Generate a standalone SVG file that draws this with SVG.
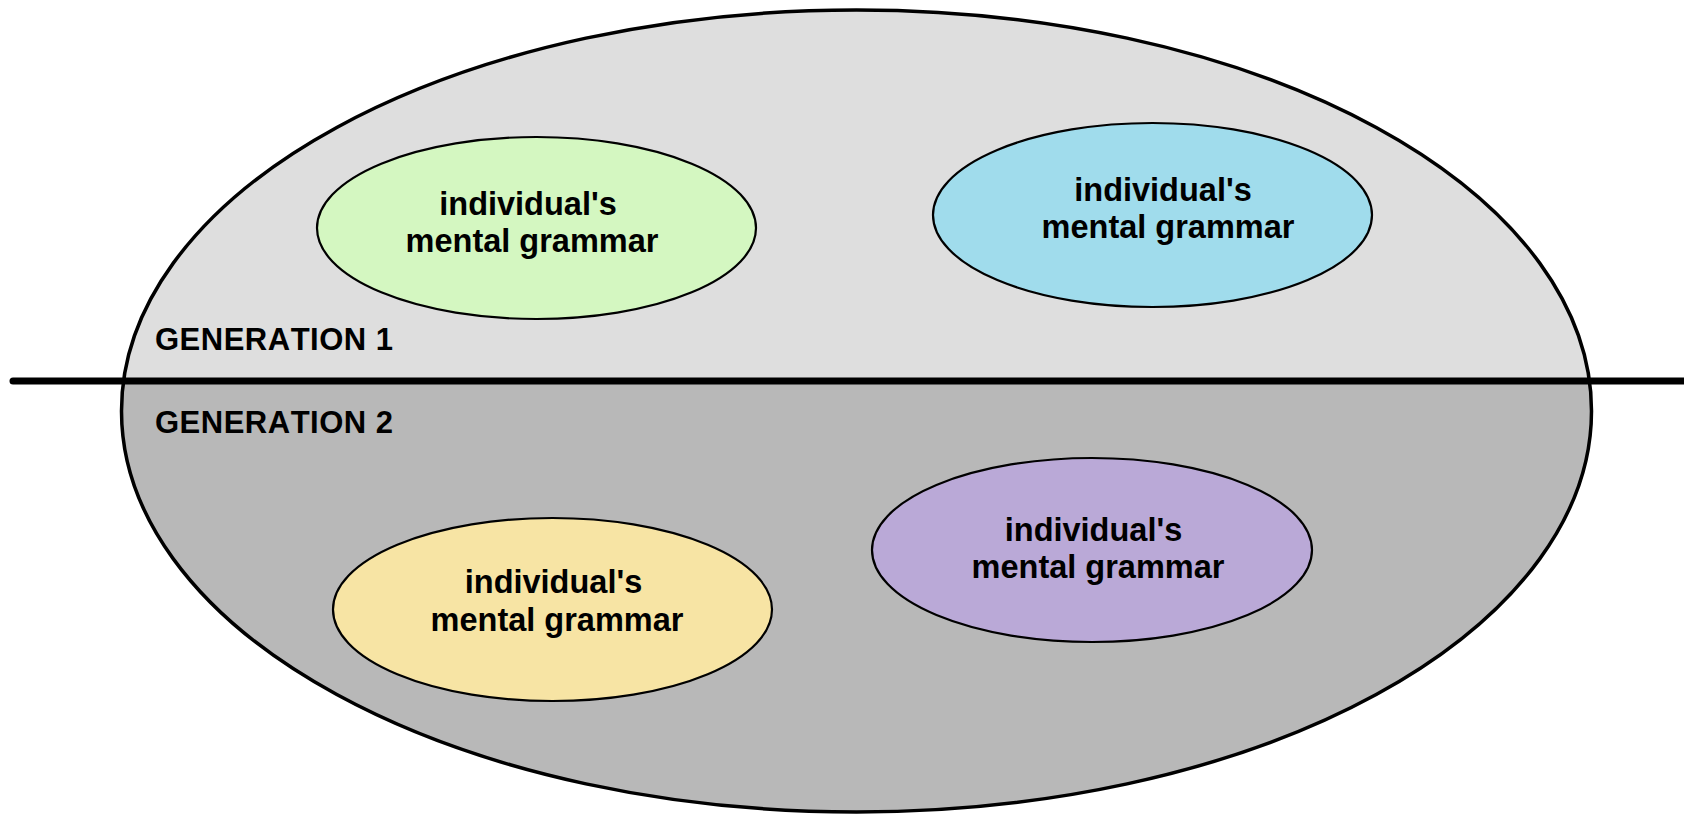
<svg xmlns="http://www.w3.org/2000/svg" width="1684" height="815" viewBox="0 0 1684 815">
  <style>
    .label { font-family: "Liberation Sans", Arial, sans-serif; font-weight: bold; font-size: 32.5px; fill: #000; text-anchor: middle; font-kerning: none; }
    .gen { font-family: "Liberation Sans", Arial, sans-serif; font-weight: bold; font-size: 31px; letter-spacing: 0.5px; fill: #000; font-kerning: none; }
    .bubble { stroke: #000; stroke-width: 2.2; }
  </style>
  <defs>
    <clipPath id="lowerHalf">
      <rect x="0" y="381" width="1684" height="434"/>
    </clipPath>
  </defs>

  <rect width="1684" height="815" fill="#ffffff"/>

  <!-- population: two generations sharing one ellipse -->
  <g id="population">
    <ellipse cx="856.5" cy="411" rx="735" ry="401" fill="#dedede"/>
    <ellipse cx="856.5" cy="411" rx="735" ry="401" fill="#b8b8b8" clip-path="url(#lowerHalf)"/>
    <ellipse cx="856.5" cy="411" rx="735" ry="401" fill="none" stroke="#000" stroke-width="3.5"/>
  </g>

  <!-- generation divider -->
  <g id="connectors">
    <line x1="13" y1="381" x2="1684" y2="381" stroke="#000" stroke-width="7" stroke-linecap="round"/>
  </g>

  <g id="generation1-label">
    <text class="gen" x="155" y="350">GENERATION 1</text>
  </g>
  <g id="generation2-label">
    <text class="gen" x="155" y="433">GENERATION 2</text>
  </g>

  <g id="grammar-g1-a">
    <ellipse class="bubble" cx="536.5" cy="228" rx="219.5" ry="91" fill="#d4f7c1"/>
    <text class="label" x="528" y="215">individual's</text>
    <text class="label" x="532" y="252">mental grammar</text>
  </g>

  <g id="grammar-g1-b">
    <ellipse class="bubble" cx="1152.5" cy="215" rx="219.5" ry="92" fill="#a0dcec"/>
    <text class="label" x="1163" y="201">individual's</text>
    <text class="label" x="1168" y="238">mental grammar</text>
  </g>

  <g id="grammar-g2-a">
    <ellipse class="bubble" cx="552.5" cy="609.5" rx="219.5" ry="91.5" fill="#f7e4a4"/>
    <text class="label" x="553.5" y="593">individual's</text>
    <text class="label" x="557" y="631">mental grammar</text>
  </g>

  <g id="grammar-g2-b">
    <ellipse class="bubble" cx="1092" cy="550" rx="220" ry="92" fill="#baa9d7"/>
    <text class="label" x="1093.5" y="541">individual's</text>
    <text class="label" x="1098" y="578">mental grammar</text>
  </g>
</svg>
